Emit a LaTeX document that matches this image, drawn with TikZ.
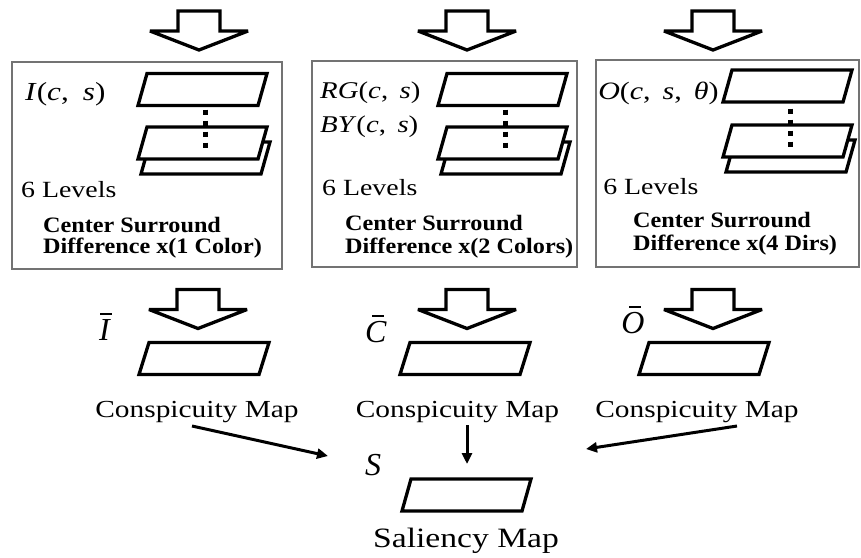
\documentclass[tikz,border=0pt]{standalone}
\usepackage{fontspec}
\setmainfont{Liberation Serif}
\usetikzlibrary{arrows.meta}
\newcommand\barlet[1]{\setbox0\hbox{\textit{#1}}\rlap{\kern\dimexpr0.6\wd0-6pt\relax\raise\dimexpr\ht0+4pt\relax\hbox{\vrule width 12pt height 1.8pt depth 0pt}}\box0}
\begin{document}
\begin{tikzpicture}[x=1pt,y=-1pt,
  panel/.style={draw=black!55,line width=1.2pt},
  planestyle/.style={draw=black,fill=white,line width=3.3pt,line join=miter},
  arrowstyle/.style={draw=black,fill=white,line width=3.3pt,line join=miter,miter limit=4},
  dotline/.style={draw=black,line width=5pt,dash pattern=on 5pt off 6pt},
  conn/.style={draw=black,line width=3pt,-{Triangle[length=11pt,width=10pt]}},
  lbl/.style={inner sep=0pt,anchor=base west,xscale=1.2},
  ctr/.style={inner sep=0pt,anchor=base,xscale=1.2},
  mlab/.style={inner sep=0pt,anchor=base,font=\fontsize{32}{32}\selectfont},
  bold/.style={inner sep=0pt,anchor=base west,xscale=1.1,font=\fontsize{22}{22}\selectfont\bfseries},
  lev/.style={lbl,font=\fontsize{23.2}{23.2}\selectfont},
  pics/plane/.style={code={\draw[planestyle] (0,32) -- (#1,0) -- (120+#1,0) -- (120,32) -- cycle;}},
  pics/blockarrow/.style={code={\draw[arrowstyle] (-21,0) -- (21,0) -- (21,20) -- (49,20) -- (0,39) -- (-49,20) -- (-21,20) -- cycle;}}
]
\useasboundingbox (0,0) rectangle (861,557);

% input arrows
\pic at (199,11) {blockarrow};
\pic at (467,11) {blockarrow};
\pic at (713,11) {blockarrow};

% panels
\draw[panel] (12,62) rectangle (282,269);
\draw[panel] (312,61) rectangle (577,267);
\draw[panel] (596,60) rectangle (859,267);

% panel 1 planes
\pic at (138,73.5) {plane=9};
\pic at (141,142) {plane=9};
\pic at (138,127) {plane=9};
\draw[dotline] (205,109.5) -- (205,147.5);
% panel 2 planes
\pic at (438,73.5) {plane=9};
\pic at (441,142) {plane=9};
\pic at (438,127) {plane=9};
\draw[dotline] (505,109.5) -- (505,147.5);
% panel 3 planes
\pic at (723,70) {plane=9};
\pic at (726,140) {plane=9};
\pic at (723,125) {plane=9};
\draw[dotline] (790,108.5) -- (790,146.5);

% panel texts
\node[lbl,font=\fontsize{26}{26}\selectfont] (ics) at (25,100) {\textit{I}(\textit{c},\hspace{0.45em}\textit{s})};
\node[lev] (lev1) at (21,197) {6 Levels};
\node[bold] (cs1) at (43,232) {Center Surround};
\node[bold] (df1) at (43,253) {Difference x(1 Color)};

\node[lbl,font=\fontsize{24}{24}\selectfont] (rg) at (320,98) {\textit{RG}(\textit{c},\hspace{0.4em}\textit{s})};
\node[lbl,font=\fontsize{24}{24}\selectfont] (by) at (320,132) {\textit{BY}(\textit{c},\hspace{0.4em}\textit{s})};
\node[lev] (lev2) at (322,195) {6 Levels};
\node[bold] (cs2) at (345,230) {Center Surround};
\node[bold] (df2) at (345,253) {Difference x(2 Colors)};

\node[lbl,font=\fontsize{25}{25}\selectfont] (ocs) at (598,99) {\textit{O}(\textit{c},\hspace{0.4em}\textit{s},\hspace{0.4em}\textit{θ})};
\node[lev] (lev3) at (603,194) {6 Levels};
\node[bold] (cs3) at (633,227) {Center Surround};
\node[bold] (df3) at (633,250) {Difference x(4 Dirs)};

% lower arrows
\pic at (198,289.5) {blockarrow};
\pic at (467,289.5) {blockarrow};
\pic at (713,289.5) {blockarrow};

% conspicuity planes
\pic at (139,342.5) {plane=10};
\pic at (400,342.5) {plane=10};
\pic at (639,342.5) {plane=10};

\node[mlab] (ibar) at (105,340) {\barlet{I}};
\node[mlab] (cbar) at (376,342) {\barlet{C}};
\node[mlab] (obar) at (633,333) {\barlet{O}};

\node[ctr,font=\fontsize{24.5}{24.5}\selectfont] (cm1) at (197,417) {Conspicuity Map};
\node[ctr,font=\fontsize{24.5}{24.5}\selectfont] (cm2) at (457.5,417) {Conspicuity Map};
\node[ctr,font=\fontsize{24.5}{24.5}\selectfont] (cm3) at (697,417) {Conspicuity Map};

% saliency
\node[mlab] (s) at (373,475) {\textit{S}};
\pic at (402,479) {plane=9};
\node[ctr,font=\fontsize{28}{28}\selectfont] (sm) at (466,547) {Saliency Map};

% connectors
\coordinate (a1s) at (192,426);
\coordinate (a1e) at (328,456);
\coordinate (a2s) at (467,425);
\coordinate (a2e) at (467,464);
\coordinate (a3s) at (737,426);
\coordinate (a3e) at (586,449);
\draw[conn] (a1s) -- (a1e);
\draw[conn] (a2s) -- (a2e);
\draw[conn] (a3s) -- (a3e);
\end{tikzpicture}
\end{document}
